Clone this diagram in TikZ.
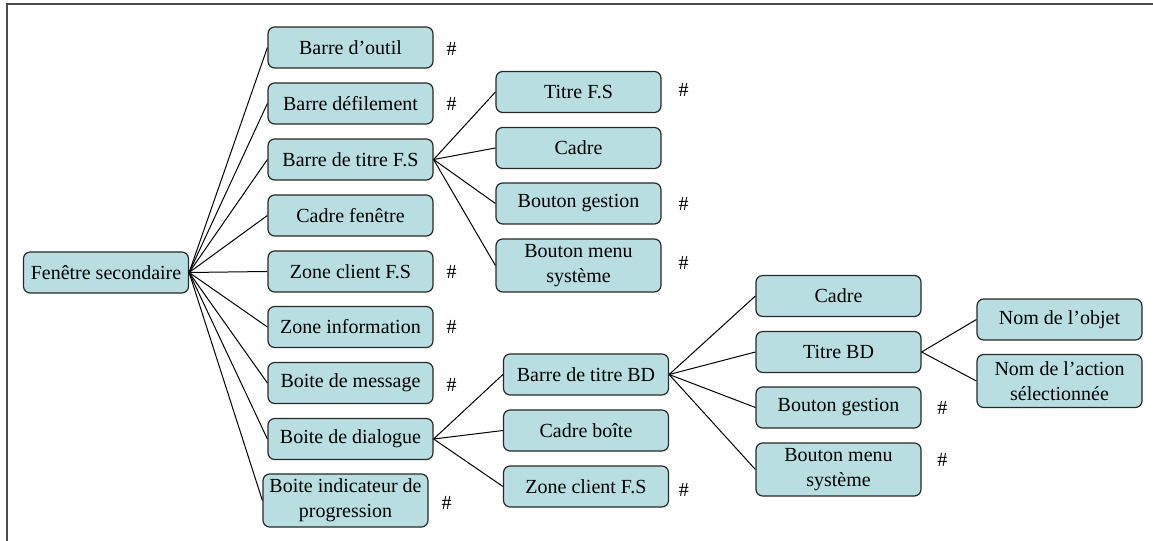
\documentclass[tikz,border=0pt]{standalone}
\usepackage{fontspec}
\setmainfont{Liberation Serif}
\definecolor{boxfill}{RGB}{184,222,226}
\definecolor{boxline}{RGB}{40,40,40}
\tikzset{
  box/.style={rectangle, rounded corners=5pt, minimum width=123.75pt, minimum height=30.75pt, inner sep=1pt, align=center, draw=boxline, line width=0.9pt, fill=boxfill, font=\fontsize{15}{18.75}\selectfont},
  tallbox/.style={box, minimum height=39.75pt},
  hash/.style={inner sep=0pt, font=\fontsize{15}{18}\selectfont},
  link/.style={draw=black, line width=0.75pt}
}
\begin{document}
\begin{tikzpicture}[x=0.75pt,y=-0.75pt]
\useasboundingbox (0,0) rectangle (1153,541);
\draw[line width=1.5pt, draw=black!70] (7,541) -- (7,4) -- (1153,4);
\node[box] at (106,272.5) (FS) {Fenêtre secondaire};
\node[box] at (350.5,47.5) (BO) {Barre d’outil};
\node[box] at (350.5,103.5) (BDF) {Barre défilement};
\node[box] at (350.5,159.5) (BTFS) {Barre de titre F.S};
\node[box] at (350.5,215.5) (CF) {Cadre fenêtre};
\node[box] at (350.5,271.5) (ZCFS) {Zone client F.S};
\node[box] at (350.5,327) (ZI) {Zone information};
\node[box] at (350.5,383) (BM) {Boite de message};
\node[box] at (350.5,439) (BDLG) {Boite de dialogue};
\node[tallbox] at (345.5,500.5) (BIP) {Boite indicateur de\\progression};
\node[box] at (578.5,92) (TFS) {Titre F.S};
\node[box] at (578.5,148) (CFS) {Cadre};
\node[box] at (578.5,203.5) (BGFS) {Bouton gestion};
\node[tallbox] at (578.5,265.5) (BMFS) {Bouton menu\\système};
\node[box] at (586,374.5) (BTBD) {Barre de titre BD};
\node[box] at (586,430.5) (CB) {Cadre boîte};
\node[box] at (586,486.5) (ZCBD) {Zone client F.S};
\node[box] at (838.5,296) (CBD) {Cadre};
\node[box] at (838.5,352) (TBD) {Titre BD};
\node[box] at (838.5,407.5) (BGBD) {Bouton gestion};
\node[tallbox] at (838.5,469.5) (BMBD) {Bouton menu\\système};
\node[box] at (1059.5,319.5) (NO) {Nom de l’objet};
\node[tallbox] at (1059.5,381) (NA) {Nom de l’action\\sélectionnée};
% marques
\node[hash] at ([xshift=13.5pt,yshift=-1pt]BO.east) (hBO) {\#};
\node[hash] at ([xshift=13.5pt]BDF.east) (hBDF) {\#};
\node[hash] at ([xshift=13.5pt]ZCFS.east) (hZCFS) {\#};
\node[hash] at ([xshift=13.5pt]ZI.east) (hZI) {\#};
\node[hash] at ([xshift=13.5pt,yshift=-1.5pt]BM.east) (hBM) {\#};
\node[hash] at ([xshift=13.5pt,yshift=-2pt]BIP.east) (hBIP) {\#};
\node[hash] at ([xshift=16.5pt,yshift=1.5pt]TFS.east) (hTFS) {\#};
\node[hash] at ([xshift=16.5pt]BGFS.east) (hBGFS) {\#};
\node[hash] at ([xshift=16.5pt,yshift=2pt]BMFS.east) (hBMFS) {\#};
\node[hash] at ([xshift=11pt,yshift=-2.5pt]ZCBD.east) (hZCBD) {\#};
\node[hash] at ([xshift=15.5pt]BGBD.east) (hBGBD) {\#};
\node[hash] at ([xshift=15.5pt,yshift=7pt]BMBD.east) (hBMBD) {\#};
% liens
\draw[link] (FS.east) -- (BO.west);
\draw[link] (FS.east) -- (BDF.west);
\draw[link] (FS.east) -- (BTFS.west);
\draw[link] (FS.east) -- (CF.west);
\draw[link] (FS.east) -- (ZCFS.west);
\draw[link] (FS.east) -- (ZI.west);
\draw[link] (FS.east) -- (BM.west);
\draw[link] (FS.east) -- (BDLG.west);
\draw[link] (FS.east) -- (BIP.west);
\draw[link] (BTFS.east) -- (TFS.west);
\draw[link] (BTFS.east) -- (CFS.west);
\draw[link] (BTFS.east) -- (BGFS.west);
\draw[link] (BTFS.east) -- (BMFS.west);
\draw[link] (BDLG.east) -- (BTBD.west);
\draw[link] (BDLG.east) -- (CB.west);
\draw[link] (BDLG.east) -- (ZCBD.west);
\draw[link] (BTBD.east) -- (CBD.west);
\draw[link] (BTBD.east) -- (TBD.west);
\draw[link] (BTBD.east) -- (BGBD.west);
\draw[link] (BTBD.east) -- (BMBD.west);
\draw[link] (TBD.east) -- (NO.west);
\draw[link] (TBD.east) -- (NA.west);
\end{tikzpicture}
\end{document}
